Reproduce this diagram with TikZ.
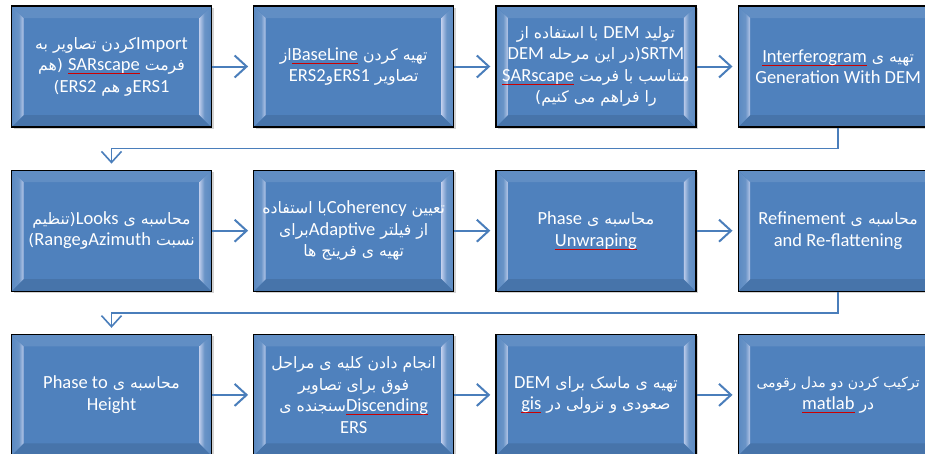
\documentclass[tikz,border=0pt]{standalone}
\usepackage{fontspec}
\setmainfont{Carlito}
\newfontfamily\latin{Carlito}
\newfontfamily\fa[Script=Arabic,Scale=0.85]{DejaVu Sans}
\TeXXeTstate=1
\usetikzlibrary{arrows.meta,positioning,calc,shadows}

\definecolor{boxblue}{HTML}{4F81BD}
\definecolor{lineblue}{HTML}{4A7EBB}
\pgfdeclarehorizontalshading{bevelleft}{100bp}{color(0bp)=(boxblue); color(55bp)=(boxblue!85!white); color(88bp)=(blue!8!white); color(100bp)=(blue!8!white)}
\pgfdeclarehorizontalshading{bevelright}{100bp}{color(0bp)=(blue!8!white); color(12bp)=(blue!8!white); color(45bp)=(boxblue!85!white); color(100bp)=(boxblue)}

\newcommand{\en}[1]{\beginL{\latin #1}\endL}
\newcommand{\sq}[1]{\beginL\setbox0\hbox{\latin #1}\rlap{\textcolor{red!80!black}{\rule[-3pt]{\wd0}{0.5pt}}}\box0\endL}
\newcommand{\rl}[1]{\beginR#1\endR}

\begin{document}
\begin{tikzpicture}[
    node distance=42pt and 41pt,
    stagebox/.style={rectangle, draw=black, line width=1.2pt, fill=boxblue, text=white, align=center, minimum width=200pt, minimum height=121pt, inner sep=0pt, font=\fontsize{18.5}{21.5}\selectfont\fa, drop shadow={shadow xshift=2pt, shadow yshift=-2pt, opacity=0.35}, bevel},
    bevel/.style={path picture={
        \coordinate (ul) at (path picture bounding box.north west);
        \coordinate (lr) at (path picture bounding box.south east);
        \coordinate (ur) at (ul -| lr);
        \coordinate (ll) at (ul |- lr);
        \fill[boxblue!90!white] (ul) -- (ur) -- ($(ur)+(-12pt,-12pt)$) -- ($(ul)+(12pt,-12pt)$) -- cycle;
        \fill[boxblue!90!black] (ll) -- (lr) -- ($(lr)+(-12pt,12pt)$) -- ($(ll)+(12pt,12pt)$) -- cycle;
        \fill[shading=bevelleft] (ul) -- ($(ul)+(12pt,-12pt)$) -- ($(ll)+(12pt,12pt)$) -- (ll) -- cycle;
        \fill[shading=bevelright] (ur) -- ($(ur)+(-12pt,-12pt)$) -- ($(lr)+(-12pt,12pt)$) -- (lr) -- cycle;
    }},
    flow/.style={draw=lineblue, line width=2pt, -{Straight Barb[length=12pt, width=22pt, line width=2pt]}, shorten >=5pt},
    back/.style={draw=lineblue, line width=1.5pt, -{Straight Barb[length=11pt, width=20pt, line width=1.6pt]}, shorten >=6pt}
]
    \useasboundingbox (0,0) rectangle (925pt,-453pt);
    \clip (0,0) rectangle (925pt,-453pt);

    % first row
    \node [stagebox] (n1) at (111.5pt,-66.5pt) {\rl{\en{Import}کردن تصاویر به}\\ \rl{فرمت \sq{SARscape} (هم}\\ \rl{\en{ERS1}و هم \en{ERS2})}};
    \node [stagebox, right=of n1] (n2) {\rl{تهیه کردن \sq{BaseLine}از}\\ \rl{تصاویر \en{ERS1}و\en{ERS2}}};
    \node [stagebox, right=of n2] (n3) {\rl{تولید \en{DEM} با استفاده از}\\ \rl{\en{SRTM}(در این مرحله \en{DEM}}\\ \rl{متناسب با فرمت \sq{SARscape}}\\ \rl{را فراهم می کنیم)}};
    \node [stagebox, right=of n3] (n4) {\rl{تهیه ی \sq{Interferogram}}\\ \en{Generation With DEM}};

    % second row
    \node [stagebox, below=of n1] (n5) {\rl{محاسبه ی \en{Looks}(تنظیم}\\ \rl{نسبت \en{Azimuth}و\en{Range})}};
    \node [stagebox, right=of n5] (n6) {\rl{تعیین \en{Coherency}با استفاده}\\ \rl{از فیلتر \en{Adaptive}برای}\\ \rl{تهیه ی فرینج ها}};
    \node [stagebox, right=of n6] (n7) {\rl{محاسبه ی \en{Phase}}\\ \sq{Unwraping}};
    \node [stagebox, right=of n7] (n8) {\rl{محاسبه ی \en{Refinement}}\\ \en{and Re-flattening}};

    % third row
    \node [stagebox, below=of n5] (n9) {\rl{محاسبه ی \en{Phase to}}\\ \en{Height}};
    \node [stagebox, right=of n9] (n10) {\rl{انجام دادن کلیه ی مراحل}\\ \rl{فوق برای تصاویر}\\ \rl{\sq{Discending}سنجنده ی}\\ \en{ERS}};
    \node [stagebox, right=of n10] (n11) {\rl{تهیه ی ماسک برای \en{DEM}}\\ \rl{صعودی و نزولی در \sq{gis}}};
    \node [stagebox, right=of n11] (n12) {{\fontsize{16.5}{21.5}\selectfont\rl{ترکیب کردن دو مدل رقومی}}\\ \rl{در \sq{matlab}}};

    \draw [flow] (n1) -- (n2);
    \draw [flow] (n2) -- (n3);
    \draw [flow] (n3) -- (n4);
    \draw [flow] (n5) -- (n6);
    \draw [flow] (n6) -- (n7);
    \draw [flow] (n7) -- (n8);
    \draw [flow] (n9) -- (n10);
    \draw [flow] (n10) -- (n11);
    \draw [flow] (n11) -- (n12);

    % row changes
    \draw [back] (n4.south) -- ($(n4.south)!.5!(n8.north)$) -| (n5.north);
    \draw [back] (n8.south) -- ($(n8.south)!.5!(n12.north)$) -| (n9.north);
\end{tikzpicture}
\end{document}
